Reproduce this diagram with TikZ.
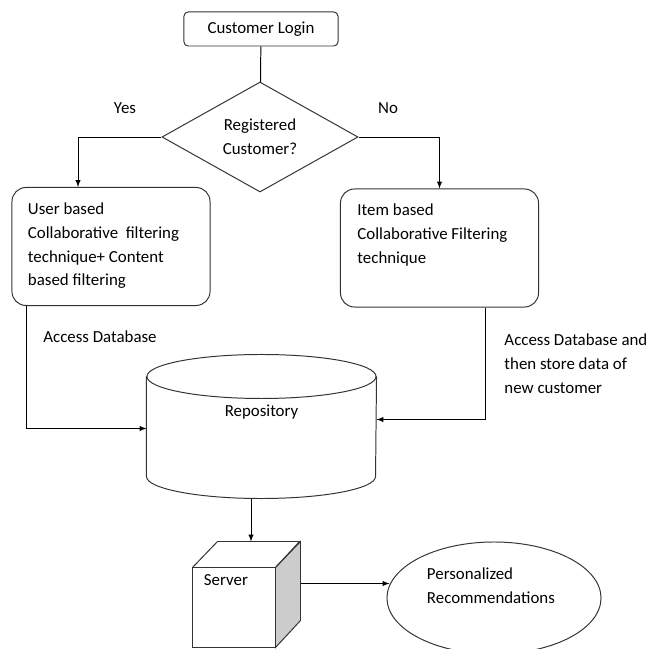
\documentclass[tikz,border=0pt]{standalone}
\usepackage{fontspec}
\setmainfont{Carlito}
\usetikzlibrary{arrows,shapes.geometric,positioning}

\begin{document}
\begin{tikzpicture}[
        x=0.025cm, y=-0.025cm,
        >=latex, line width=0.7pt,
        font=\fontsize{12}{17}\selectfont
    ]

    \tikzstyle{block} = [rectangle,draw=black!80,rounded corners=3pt]
    \tikzstyle{tech}  = [rectangle,draw=black!80,rounded corners=10pt,minimum width=4.95cm,minimum height=2.95cm]
    \tikzstyle{txt}   = [align=left,inner sep=0pt]

    \useasboundingbox (0,0) rectangle (665,649);

    \node[block,minimum width=3.85cm,minimum height=0.85cm] (login) at (261,29) {Customer Login};
    \node[diamond,draw=black!80,inner sep=0pt,minimum width=4.9cm,minimum height=2.55cm,align=center] (reg) at (260,137) {Registered\\Customer?};

    \node (yes) at (125,108) {Yes};
    \node (no)  at (388,108) {No};

    \node[tech] (user) at (111,246.5) {};
    \node[tech] (item) at (439.5,248) {};
    \node[txt,anchor=north west] (usertxt) at ([shift={(16,15)}]user.north west)
        {User based\\Collaborative~ filtering\\technique+ Content\\based filtering};
    \node[txt,anchor=north west] (itemtxt) at ([shift={(17,15)}]item.north west)
        {Item based\\Collaborative Filtering\\technique};

    \node (access) at (100,337) {Access Database};
    \node[txt,anchor=west] (store) at (504,364) {Access Database and\\then store data of\\new customer};

    % repository: body node plus the two ends
    \node[minimum width=5.725cm,minimum height=2.475cm,inner sep=0pt] (repo) at (261.5,426.5) {};
    \draw[draw=black!80] (repo.north west) -- (repo.south west)
        arc[start angle=180,end angle=360,x radius=2.8625cm,y radius=0.55cm] -- (repo.north east);
    \draw[draw=black!80] (repo.north) ellipse [x radius=2.8625cm,y radius=0.55cm];
    \node (repotxt) at ([shift={(0,-14)}]repo.center) {Repository};
    \coordinate (repobot) at ([shift={(0,22)}]repo.south);

    % server box
    \node[draw=black!80,minimum width=2.05cm,minimum height=1.975cm,inner sep=0pt] (server) at (234,607.5) {};
    \draw[draw=black!80,fill=gray!40] (server.north east) -- ++(25,-26) -- ++(0,79) -- (server.south east) -- cycle;
    \draw[draw=black!80] (server.north west) -- ++(25,-26) -- ++(82,0) -- (server.north east);
    \node[txt,anchor=north west] (servertxt) at ([shift={(11,7)}]server.north west) {Server};
    \coordinate (srvtop)  at ([shift={(17,-26)}]server.north);
    \coordinate (srvside) at ([shift={(25,-24)}]server.east);

    \node[ellipse,draw=black!80,minimum width=5.35cm,minimum height=2.8cm] (rec) at (494,598) {};
    \node[txt,anchor=north west] (rectxt) at ([shift={(40,-31)}]rec.west) {Personalized\\Recommendations};

    \draw (login) -- (reg);
    \draw[->] (reg.west) -| ([shift={(-33,0)}]user.north);
    \draw[->] (reg.east) -| (item.north);
    \draw[->] ([shift={(-85,0)}]user.south) |- ([shift={(0,2)}]repo.west);
    \draw[->] ([shift={(46,0)}]item.south) |- ([shift={(0,-7)}]repo.east);
    \draw[->] (repobot -| srvtop) -- (srvtop);
    \draw[->] (srvside) -- ([shift={(3,0)}]rec.west |- srvside);

\end{tikzpicture}
\end{document}
